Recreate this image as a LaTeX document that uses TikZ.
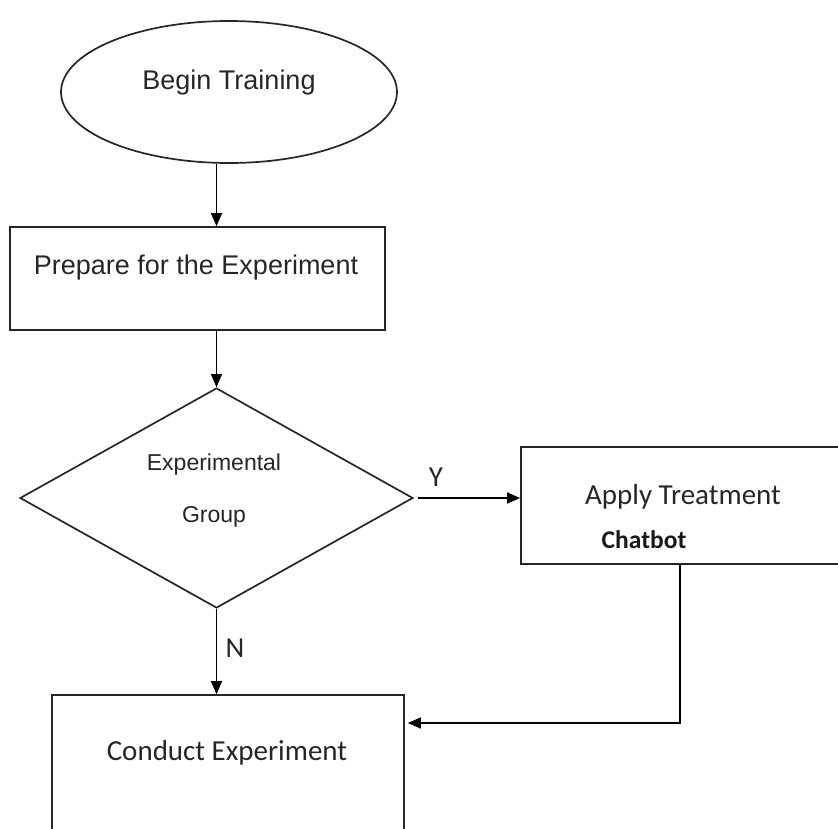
\documentclass[tikz,border=0pt]{standalone}
\usepackage{fontspec}
\setmainfont{Liberation Sans}
\newfontfamily\calfont{Carlito}
\usetikzlibrary{shapes.geometric,arrows.meta,calc}
\begin{document}
\begin{tikzpicture}[x=1pt,y=-1pt,
  shapeline/.style={draw=black!85, line width=1.7pt},
  flow/.style={draw=black, line width=1.5pt, -{Triangle[length=13pt,width=11pt]}},
  arialtxt/.style={font=\fontsize{27}{30}\selectfont, text=black!85, inner sep=0pt},
  dectxt/.style={font=\fontsize{23}{26}\selectfont, text=black!85, inner sep=0pt},
  caltxt/.style={font=\calfont\fontsize{29}{32}\selectfont, text=black!85, inner sep=0pt},
  boldtxt/.style={font=\calfont\bfseries\fontsize{25.5}{28}\selectfont, text=black!90, inner sep=0pt}]
\useasboundingbox (0,0) rectangle (838,828);

% shapes
\node[ellipse, shapeline, minimum width=336pt, minimum height=142pt, inner sep=0pt] (start) at (229,92) {};
\node[rectangle, shapeline, minimum width=375pt, minimum height=103pt, inner sep=0pt] (prep) at (197.5,278.5) {};
\node[diamond, shapeline, minimum width=393pt, minimum height=220pt, inner sep=0pt] (dec) at (216.5,498) {};
\node[rectangle, shapeline, minimum width=324pt, minimum height=117pt, inner sep=0pt] (treat) at (683,505.5) {};
\node[rectangle, shapeline, minimum width=352pt, minimum height=150pt, inner sep=0pt] (cond) at (228,770) {};

% texts
\node[arialtxt] (t1) at (229,83) {Begin Training};
\node[arialtxt] (t2) at (196,268) {Prepare for the Experiment};
\node[dectxt] (t3) at (214,465) {Experimental};
\node[dectxt] (t4) at (214,517) {Group};
\node[caltxt] (t5) at (683,497) {Apply Treatment};
\node[boldtxt] (t6) at (644,540) {Chatbot};
\node[caltxt] (t7) at (227,753) {Conduct Experiment};
\node[caltxt] (yes) at (436,477) {Y};
\node[caltxt] (no) at (235,648) {N};

% connectors
\coordinate (bend) at (680,723);
\draw[flow] (start.south -| dec.north) -- (prep.north -| dec.north);
\draw[flow] (prep.south -| dec.north) -- (dec.north);
\draw[flow, shorten <=4pt] (dec.east) -- (dec.east -| treat.west);
\draw[flow] (dec.south) -- (cond.north -| dec.south);
\draw[flow, shorten >=3pt] (treat.south -| bend) -- (bend) -- (cond.east |- bend);
\end{tikzpicture}
\end{document}
